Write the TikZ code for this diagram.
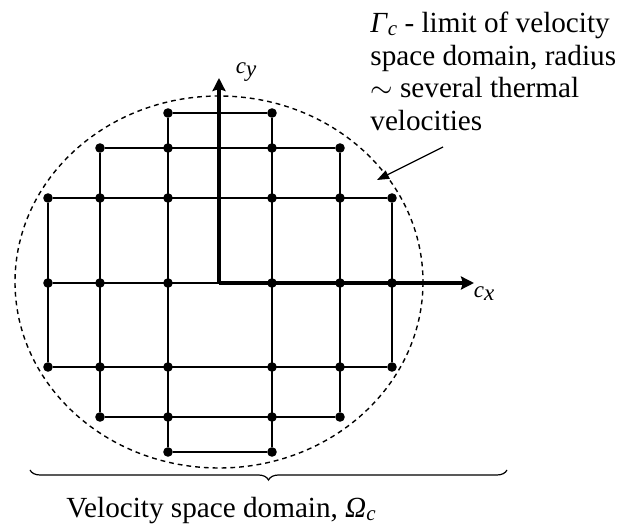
\documentclass[tikz,border=0pt]{standalone}
\usepackage{fontspec}
\setmainfont{Liberation Serif}
\usetikzlibrary{arrows.meta,decorations.pathreplacing}
\newcommand\dn[1]{\lower1.5pt\hbox{\itshape\fontsize{10.5}{11}\selectfont #1}}
\newcommand\axlow[1]{\lower1.5pt\hbox{\itshape #1}}

\begin{document}
\begin{tikzpicture}[>=Stealth, x=0.5pt, y=-0.5pt,
    gridline/.style={line width=0.85pt},
    pt/.style={circle,fill,inner sep=0pt,minimum size=4.8pt},
    axis/.style={line width=2pt,-{Stealth[length=6.5pt,width=6.5pt,inset=1pt]}},
    lbl/.style={font=\fontsize{14.6}{16.2}\selectfont},
    small/.style={font=\fontsize{11.5}{13}\selectfont}]
            \useasboundingbox (0,0) rectangle (628,529);
            % grid points, rows top to bottom
            \foreach \r/\y/\a/\b in {1/113/3/4,2/148/2/5,3/198/1/6,4/283/1/6,5/367/1/6,6/417/2/5,7/452/3/4}
                \foreach \c in {\a,...,\b} {
                    \pgfmathsetmacro\xx{{48,100,168,272,340,392}[\c-1]}
                    \node[pt] (n-\r-\c) at (\xx,\y) {};
                }
            \foreach \r/\a/\b in {1/3/4,2/2/5,3/1/6,4/1/6,5/1/6,6/2/5,7/3/4}
                \draw[gridline] (n-\r-\a) -- (n-\r-\b);
            \foreach \c/\a/\b in {1/3/5,2/2/6,3/1/7,4/1/7,5/2/6,6/3/5}
                \draw[gridline] (n-\a-\c) -- (n-\b-\c);
            % velocity space limit
            \draw[line width=0.7pt,dash pattern=on 2.4pt off 2pt] (219,282) ellipse [x radius=204,y radius=186];
            % axes
            \coordinate (O) at (219,283);
            \coordinate (xend) at (474,283);
            \coordinate (yend) at (219,78);
            \draw[axis] (O) -- (xend);
            \draw[axis] (O) -- (yend);
            \node[small] (cx) at (484,294) {\textit{c}\axlow{x}};
            \node[small] (cy) at (246,72) {\textit{c}\axlow{y}};
            % annotation
            \node[lbl,anchor=north west,align=left,inner sep=0pt] (gamma) at (370,12)
                {\textit{Γ}\dn{c} - limit of velocity\\space domain, radius\\$\sim$ several thermal\\velocities};
            \coordinate (gtail) at (443,147);
            \coordinate (ghead) at (377,180);
            \draw[line width=0.6pt,-{Triangle[length=6pt,width=4.5pt]}] (gtail) -- (ghead);
            % brace
            \coordinate (bl) at (30,470);
            \coordinate (br) at (507,470);
            \draw[line width=0.6pt,decorate,decoration={brace,mirror,amplitude=5pt}] (bl) -- (br);
            \node[lbl,anchor=base] (omega) at (221,518) {Velocity space domain, \textit{Ω}\dn{c}};
        \end{tikzpicture}
\end{document}
